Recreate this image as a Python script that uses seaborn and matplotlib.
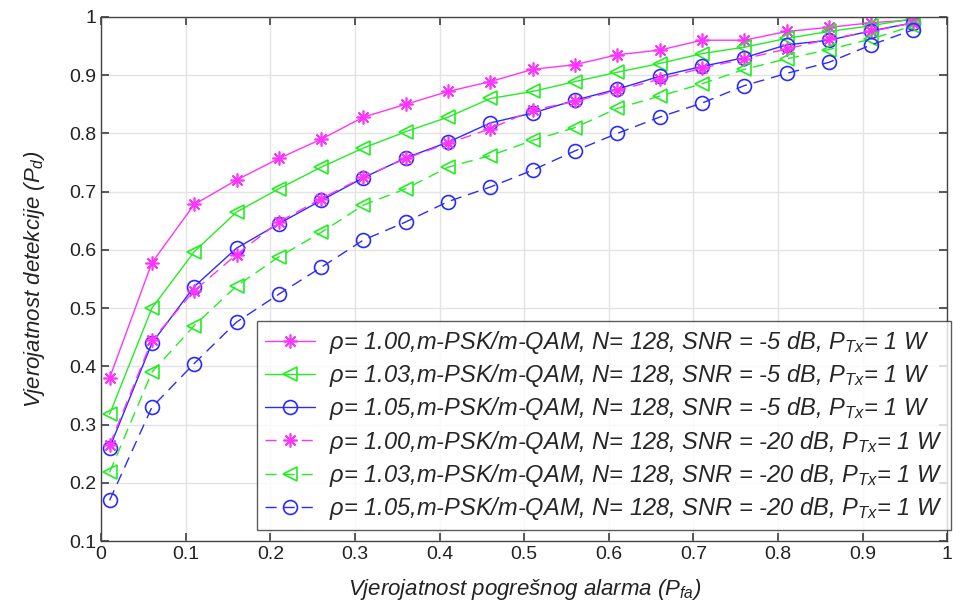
import numpy as np
import pandas as pd
import matplotlib
matplotlib.use("Agg")
import matplotlib.pyplot as plt
import seaborn as sns

# P_fa points
pfa = [0.01, 0.06, 0.11, 0.16, 0.21, 0.26, 0.31, 0.36, 0.41, 0.46,
       0.51, 0.56, 0.61, 0.66, 0.71, 0.76, 0.81, 0.86, 0.91, 0.96]

# SNR = -5 dB
pd_100_m5 = [0.380, 0.578, 0.678, 0.720, 0.757, 0.790, 0.828, 0.850, 0.872, 0.889,
             0.910, 0.918, 0.935, 0.943, 0.960, 0.960, 0.975, 0.982, 0.990, 0.995]
pd_103_m5 = [0.318, 0.500, 0.597, 0.665, 0.705, 0.742, 0.775, 0.803, 0.828, 0.860,
             0.872, 0.889, 0.905, 0.920, 0.937, 0.948, 0.963, 0.975, 0.985, 0.997]
pd_105_m5 = [0.260, 0.440, 0.537, 0.603, 0.645, 0.685, 0.724, 0.758, 0.785, 0.818,
             0.835, 0.857, 0.876, 0.898, 0.915, 0.930, 0.952, 0.960, 0.976, 0.990]

# SNR = -20 dB
pd_100_m20 = [0.265, 0.445, 0.530, 0.592, 0.648, 0.688, 0.725, 0.757, 0.783, 0.808,
              0.840, 0.855, 0.874, 0.893, 0.912, 0.928, 0.945, 0.962, 0.975, 0.990]
pd_103_m20 = [0.218, 0.390, 0.470, 0.538, 0.588, 0.630, 0.677, 0.705, 0.742, 0.762,
              0.788, 0.810, 0.843, 0.864, 0.885, 0.910, 0.928, 0.944, 0.962, 0.985]
pd_105_m20 = [0.170, 0.330, 0.405, 0.476, 0.524, 0.570, 0.617, 0.648, 0.683, 0.708,
              0.737, 0.770, 0.800, 0.828, 0.852, 0.882, 0.903, 0.922, 0.952, 0.978]

rho_labels = ["1.00", "1.03", "1.05"]
snr_labels = ["-5", "-20"]

sns.set_theme(style="ticks")
plt.rcParams["font.family"] = ["Liberation Sans", "DejaVu Sans"]
plt.rcParams["mathtext.fontset"] = "custom"
plt.rcParams["mathtext.it"] = "Liberation Sans:italic"
plt.rcParams["mathtext.rm"] = "Liberation Sans"

fig = plt.figure(figsize=(9.54, 6.04), dpi=100)
ax = fig.add_axes([0.106, 0.104, 0.887, 0.868])

colors = ["#ff33ff", "#22ee22", "#2b2bff"]
markers = [(8, 2, 0), "<", "o"]
series = [pd_100_m5, pd_103_m5, pd_105_m5, pd_100_m20, pd_103_m20, pd_105_m20]

for i, yv in enumerate(series):
    k = i % 3
    snr = snr_labels[i // 3]
    label = (r"ρ= " + rho_labels[k] + ",m-PSK/m-QAM, N= 128, SNR = " + snr
             + r" dB, $P_{Tx}$= 1 W")
    ls = "-" if i < 3 else (0, (8, 5))
    sns.lineplot(x=pfa, y=yv, ax=ax, color=colors[k], marker=markers[k],
                 markersize=10, markerfacecolor="none", markeredgecolor=colors[k],
                 markeredgewidth=1.2, linewidth=1.0, linestyle=ls, label=label)

ax.set_xlim(0, 1)
ax.set_ylim(0.1, 1)
ax.set_xticks(np.arange(0, 1.01, 0.1))
ax.set_yticks(np.arange(0.1, 1.01, 0.1))
ax.set_xticklabels(["0", "0.1", "0.2", "0.3", "0.4", "0.5", "0.6", "0.7", "0.8", "0.9", "1"])
ax.set_yticklabels(["0.1", "0.2", "0.3", "0.4", "0.5", "0.6", "0.7", "0.8", "0.9", "1"])
ax.grid(True, color="#e3e3e3", linewidth=1.0)
ax.tick_params(direction="in", top=True, right=True, labelsize=14, length=6,
               color="#444444", colors="#222222")
for s in ax.spines.values():
    s.set_color("#444444")
    s.set_linewidth(1.0)

ax.set_xlabel(r"Vjerojatnost pogrešnog alarma ($P_{fa}$)", fontsize=16,
              style="italic", color="#222222", labelpad=10)
ax.set_ylabel(r"Vjerojatnost detekcije ($P_d$)", fontsize=16,
              style="italic", color="#222222", labelpad=16)

leg = ax.legend(loc="lower right", bbox_to_anchor=(1.004, 0.021), fontsize=17,
                frameon=True, fancybox=False, edgecolor="#333333",
                handlelength=2.1, handletextpad=0.6, labelspacing=0.26,
                borderpad=0.35, borderaxespad=0)
leg.get_frame().set_linewidth(1.0)
for t in leg.get_texts():
    t.set_fontstyle("italic")

fig.savefig("out.png", dpi=100)
